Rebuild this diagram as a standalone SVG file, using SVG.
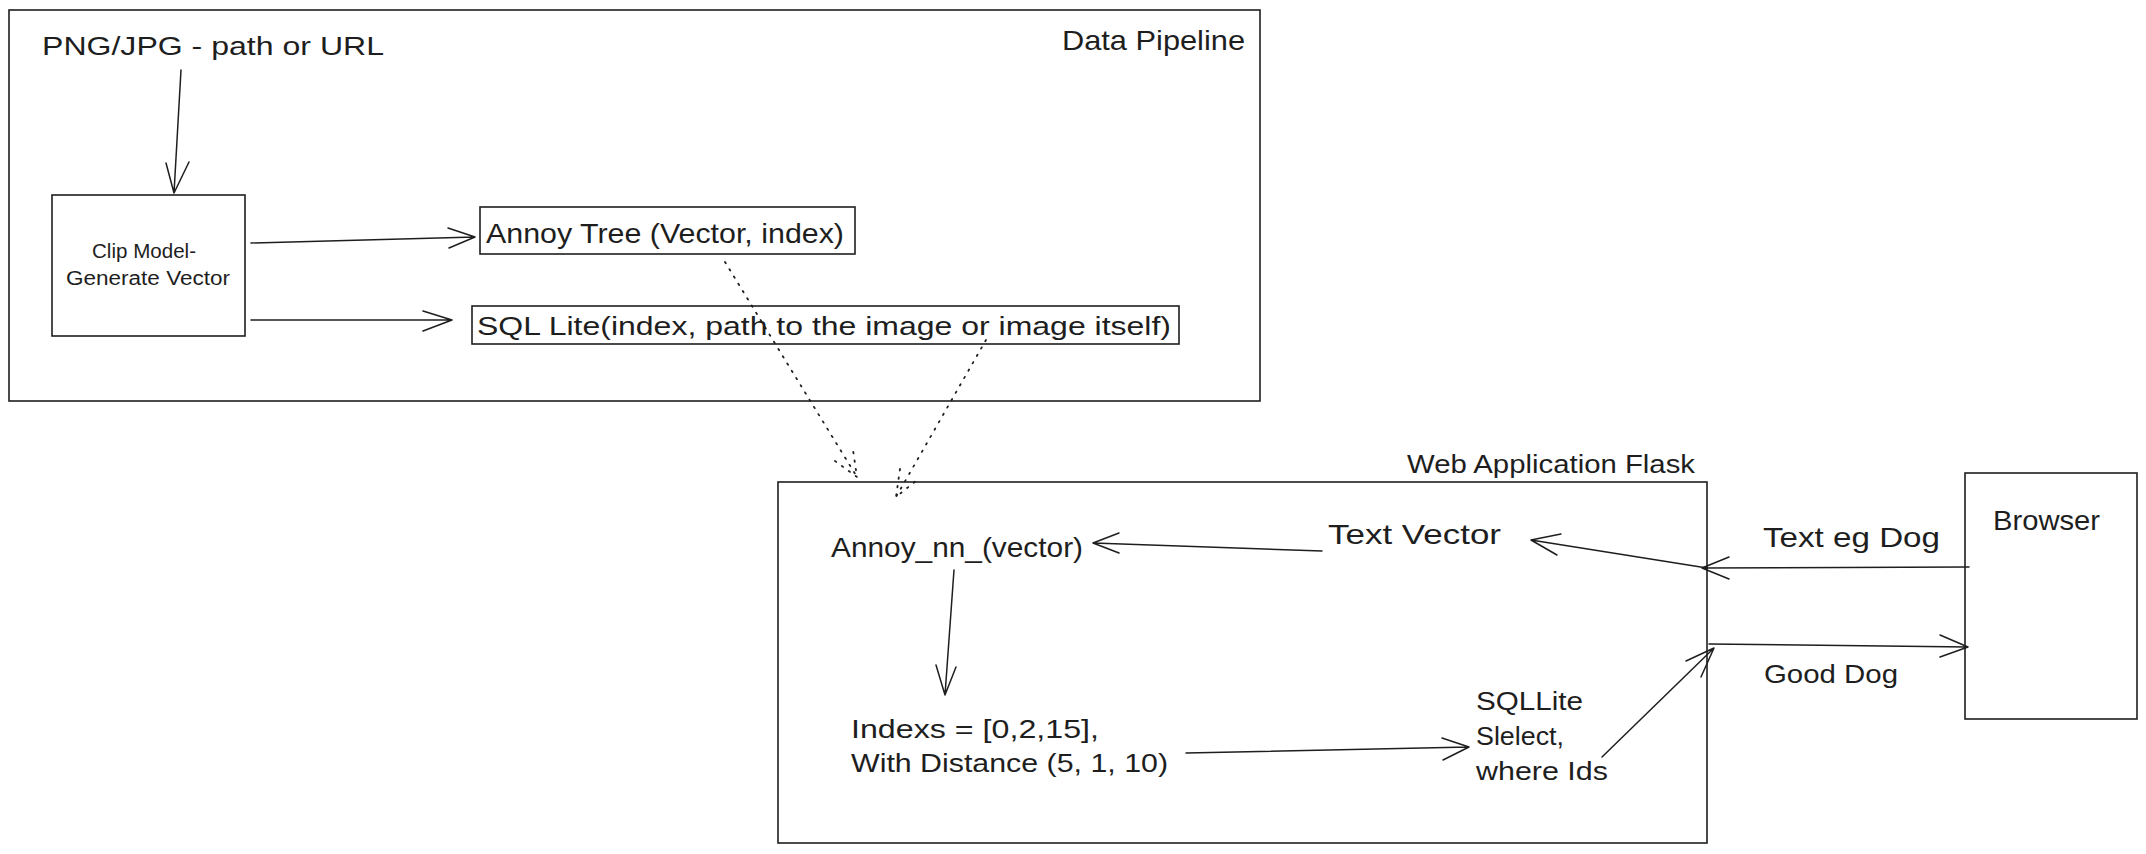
<svg xmlns="http://www.w3.org/2000/svg" width="2146" height="854" viewBox="0 0 2146 854">
<style>
.box{fill:none;stroke:#1e1e1e;stroke-width:1.6}
.ln{fill:none;stroke:#1e1e1e;stroke-width:1.5;stroke-linecap:round;stroke-linejoin:round}
.dot{fill:none;stroke:#1e1e1e;stroke-width:1.8;stroke-dasharray:1.5 7;stroke-linecap:round}
text{font-family:"Liberation Sans","DejaVu Sans",sans-serif;fill:#1e1e1e}
.t26{font-size:26px}
.t28{font-size:28px}
.t20{font-size:20px}
</style>
<rect width="2146" height="854" fill="#ffffff"/>
<g id="data-pipeline">
<rect class="box" x="9" y="10" width="1251" height="391"/>
<text class="t28" x="1062" y="50" textLength="183" lengthAdjust="spacingAndGlyphs">Data Pipeline</text>
</g>
<g id="input-label">
<text class="t26" x="42" y="55" textLength="342" lengthAdjust="spacingAndGlyphs">PNG/JPG - path or URL</text>
</g>
<g id="clip-model">
<rect class="box" x="52" y="195" width="193" height="141"/>
<text class="t20" x="92" y="258" textLength="104" lengthAdjust="spacingAndGlyphs">Clip Model-</text>
<text class="t20" x="66" y="285" textLength="164" lengthAdjust="spacingAndGlyphs">Generate Vector</text>
</g>
<g id="annoy-tree">
<rect class="box" x="480" y="207" width="375" height="47"/>
<text class="t28" x="486" y="243" textLength="358" lengthAdjust="spacingAndGlyphs">Annoy Tree (Vector, index)</text>
</g>
<g id="sql-lite">
<rect class="box" x="472" y="306" width="707" height="38"/>
<text class="t26" x="477" y="335" textLength="694" lengthAdjust="spacingAndGlyphs">SQL Lite(index, path to the image or image itself)</text>
</g>
<g id="web-app">
<rect class="box" x="778" y="482" width="929" height="361"/>
<text class="t26" x="1407" y="473" textLength="288" lengthAdjust="spacingAndGlyphs">Web Application Flask</text>
</g>
<g id="browser">
<rect class="box" x="1965" y="473" width="172" height="246"/>
<text class="t28" x="1993" y="530" textLength="107" lengthAdjust="spacingAndGlyphs">Browser</text>
</g>
<g id="text-vector">
<text class="t28" x="1328" y="544" textLength="173" lengthAdjust="spacingAndGlyphs">Text Vector</text>
</g>
<g id="annoy-nn">
<text class="t28" x="831" y="557" textLength="252" lengthAdjust="spacingAndGlyphs">Annoy_nn_(vector)</text>
</g>
<g id="indexes">
<text class="t26" x="851" y="738" textLength="248" lengthAdjust="spacingAndGlyphs">Indexs = [0,2,15],</text>
<text class="t26" x="851" y="772" textLength="317" lengthAdjust="spacingAndGlyphs">With Distance (5, 1, 10)</text>
</g>
<g id="sqllite-select">
<text class="t26" x="1476" y="710" textLength="107" lengthAdjust="spacingAndGlyphs">SQLLite</text>
<text class="t26" x="1476" y="745" textLength="88" lengthAdjust="spacingAndGlyphs">Slelect,</text>
<text class="t26" x="1476" y="780" textLength="132" lengthAdjust="spacingAndGlyphs">where Ids</text>
</g>
<g id="edge-labels">
<text class="t28" x="1763" y="547" textLength="177" lengthAdjust="spacingAndGlyphs">Text eg Dog</text>
<text class="t26" x="1764" y="683" textLength="134" lengthAdjust="spacingAndGlyphs">Good Dog</text>
</g>
<g id="connectors">
<path class="ln" d="M181 70 L174 193 M166 163 L174 193 L189 162"/>
<path class="ln" d="M251 243 L475 237 M448 228 L475 237 L449 248"/>
<path class="ln" d="M251 320 L452 320 M423 311 L452 320 L423 331"/>
<path class="dot" d="M725 262 L857 477 M835 461 L857 477 L853 450"/>
<path class="dot" d="M986 340 L896 497 M900 469 L896 497 L917 480"/>
<path class="ln" d="M1969 567 L1702 568 M1729 557 L1702 568 L1729 579"/>
<path class="ln" d="M1707 568 L1531 540 M1561 534 L1531 540 L1557 555"/>
<path class="ln" d="M1322 551 L1093 543 M1119 533 L1093 543 L1119 553"/>
<path class="ln" d="M954 570 L945 695 M936 665 L945 695 L956 667"/>
<path class="ln" d="M1186 753 L1469 747 M1442 738 L1469 747 L1443 760"/>
<path class="ln" d="M1602 757 L1714 648 M1686 661 L1714 648 L1701 677"/>
<path class="ln" d="M1709 644 L1968 647 M1940 635 L1968 647 L1940 657"/>
</g>
</svg>
